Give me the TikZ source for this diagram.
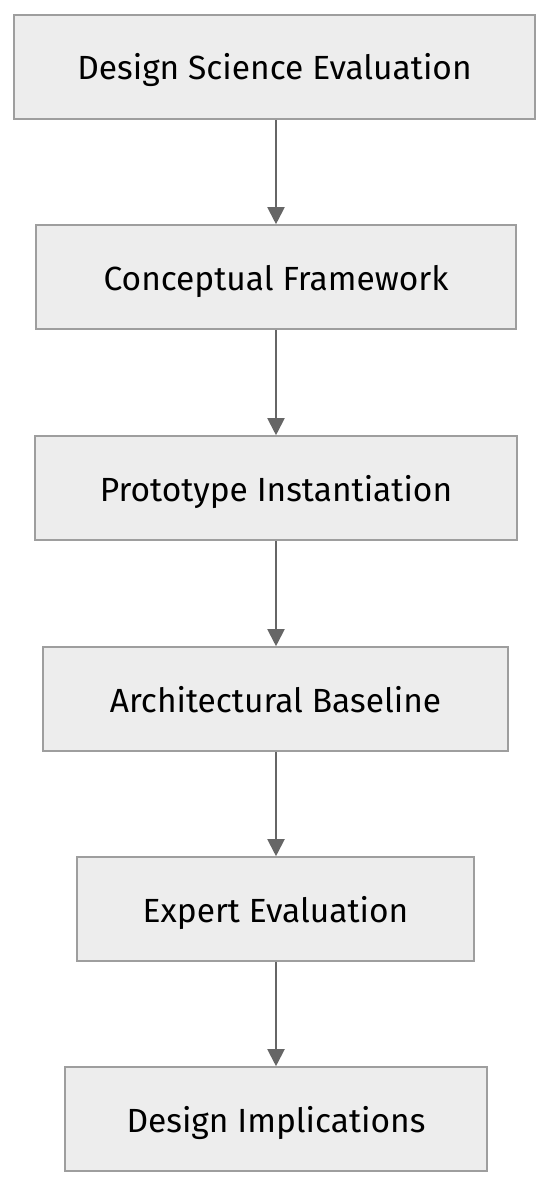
\documentclass[tikz,border=0pt]{standalone}
\usepackage{fontspec}
\setmainfont{Fira Sans}
\usetikzlibrary{arrows.meta}

\tikzset{
    stagebox/.style={draw=black!38, line width=1.6pt, fill=black!7, minimum height=104pt,
        inner sep=0pt, text height=28pt, text depth=2pt,
        font=\fontsize{33.5}{38}\selectfont, text=black},
    flow/.style={draw=black!60, line width=2pt, -{Triangle[length=17pt,width=17pt]}}
}

\begin{document}
\begin{tikzpicture}[x=1pt, y=-1pt]
    \useasboundingbox (0,0) rectangle (550,1185);
        \coordinate (axis) at (276,0);
        \node[stagebox, minimum width=521pt] (dse) at (274.5,67) {Design Science Evaluation};
        \node[stagebox, minimum width=480pt] (cf) at (276,277) {Conceptual Framework};
        \node[stagebox, minimum width=482pt] (pi) at (276,488) {Prototype Instantiation};
        \node[stagebox, minimum width=465pt] (ab) at (275.5,699) {Architectural Baseline};
        \node[stagebox, minimum width=397pt] (ee) at (275.5,909) {Expert Evaluation};
        \node[stagebox, minimum width=422pt] (di) at (276,1119) {Design Implications};

        \draw[flow] (dse.south -| axis) -- (cf.north -| axis);
        \draw[flow] (cf.south -| axis) -- (pi.north -| axis);
        \draw[flow] (pi.south -| axis) -- (ab.north -| axis);
        \draw[flow] (ab.south -| axis) -- (ee.north -| axis);
        \draw[flow] (ee.south -| axis) -- (di.north -| axis);

\end{tikzpicture}
\end{document}
